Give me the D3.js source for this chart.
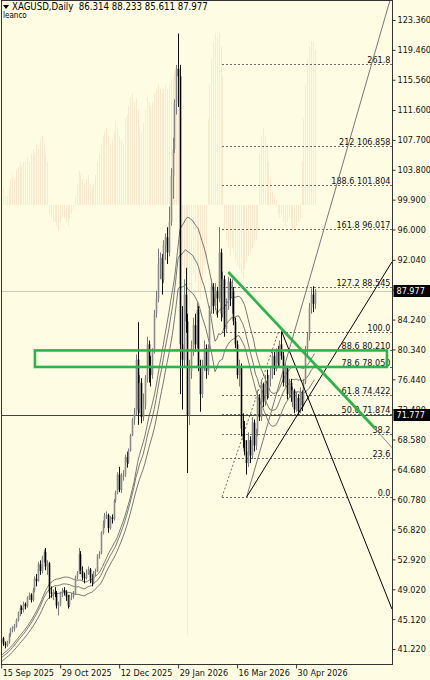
<!DOCTYPE html>
<html><head><meta charset="utf-8">
<script src="https://cdn.jsdelivr.net/npm/d3@7"></script>
<style>html,body{margin:0;padding:0;background:#fefde4;} svg{display:block;}</style>
</head><body><div id="chart"></div>
<script>
// ---------- DATA ----------
const symbolTitle = "XAGUSD,Daily  86.314 88.233 85.611 87.977";
const subTitle = "leanco";
const dateLabels = ["15 Sep 2025","29 Oct 2025","12 Dec 2025","29 Jan 2026","16 Mar 2026","30 Apr 2026"];
const dateLabelBars = [0,32,64,96,128,160];
const priceTicks = [123.36,119.46,115.56,111.6,107.7,103.8,99.9,96.0,92.04,88.14,84.24,80.34,76.44,72.48,68.58,64.68,60.78,56.82,52.92,49.02,45.12,41.22];

const open = [42.2,42.6,41.9,41.7,42.1,43.1,43.8,43.9,44.2,45.0,45.9,46.6,46.3,47.1,46.8,47.9,48.3,47.6,48.9,50.4,
50.1,52.3,51.4,53.1,53.9,52.0,52.4,48.6,48.4,48.7,48.5,46.9,47.0,48.5,48.9,48.6,48.0,46.9,48.0,48.1,
48.4,50.6,51.1,53.6,51.4,50.6,50.5,51.0,51.6,50.4,49.9,51.2,51.4,53.4,53.7,56.4,57.5,58.6,58.7,57.0,
58.4,58.2,60.6,61.6,64.0,62.0,63.9,63.9,66.3,65.6,67.1,69.1,71.2,72.0,79.0,72.5,76.0,71.5,73.0,76.6,
81.0,78.0,77.0,80.0,85.0,87.0,91.5,92.3,89.5,94.0,95.0,93.0,97.0,103.0,106.5,112.5,117.0,116.0,81.0,79.0,
87.5,84.0,71.8,77.5,80.5,83.5,81.0,85.5,78.0,74.5,78.0,80.5,77.5,80.5,85.5,88.5,86.0,88.0,87.0,93.0,
85.0,89.5,83.0,86.0,89.2,87.0,88.0,84.0,81.0,77.0,78.0,70.0,68.5,67.0,65.5,68.5,66.5,70.8,67.8,69.5,
74.0,71.5,75.8,73.5,76.2,74.5,76.5,77.0,79.5,77.8,80.0,78.5,81.0,79.5,76.0,78.0,74.5,76.0,74.0,75.0,
72.5,74.0,72.3,74.8,73.0,76.0,80.2,82.0,85.8,87.5,86.314];
const high = [42.9,42.8,42.2,42.3,43.3,44.0,44.2,44.5,45.2,46.1,47.0,46.9,47.4,47.3,48.1,48.6,48.5,49.2,50.7,51.0,
52.6,52.8,53.4,54.2,54.4,52.8,52.6,49.4,49.0,49.3,48.8,47.4,48.7,49.2,49.3,48.9,48.3,48.3,48.5,48.8,
50.8,51.4,54.4,54.0,52.0,51.2,51.6,52.0,51.8,51.0,51.4,51.7,53.6,54.0,56.6,58.0,59.0,59.2,58.9,58.6,
58.8,60.8,61.9,64.3,65.0,64.2,64.6,66.6,67.0,67.4,69.3,71.4,72.7,79.7,83.9,77.0,76.6,74.6,77.0,82.0,
81.5,79.5,80.5,85.5,88.0,93.5,93.0,92.8,94.6,95.5,96.3,99.0,104.0,108.0,113.0,117.5,121.6,117.5,86.0,89.5,
91.0,85.0,79.0,81.5,84.5,85.0,86.5,86.0,79.0,79.0,81.5,81.0,81.0,86.0,89.5,89.0,89.0,88.5,96.3,93.5,
90.5,90.0,87.0,89.8,89.6,89.5,88.5,84.5,81.5,79.0,78.5,72.0,71.0,68.5,69.5,69.0,71.5,71.2,70.0,75.0,
74.5,76.4,76.0,77.0,77.7,77.0,78.0,80.0,80.0,80.5,80.8,81.5,82.67,80.0,78.5,78.2,76.5,76.5,75.5,75.2,
74.8,74.5,75.4,75.0,76.5,80.8,82.5,86.4,88.3,88.6,88.233];
const low = [41.9,41.6,41.3,41.5,41.9,42.8,43.4,43.5,44.0,44.8,45.5,45.8,46.0,46.4,46.6,47.6,47.3,47.4,48.6,49.4,
50.0,50.9,51.1,52.5,51.5,50.9,47.8,47.9,47.6,48.0,46.5,45.6,46.8,48.0,48.2,47.5,46.5,46.7,47.6,47.8,
48.3,50.3,51.0,51.0,50.2,49.8,50.3,50.9,49.8,49.4,49.7,50.7,51.3,53.0,53.6,56.2,57.0,58.2,56.4,56.8,
57.6,58.0,60.3,61.4,61.7,61.6,63.2,63.7,64.9,65.4,67.0,69.0,70.5,71.8,70.5,72.0,70.7,71.0,72.5,76.0,
76.0,75.5,76.5,79.8,84.5,86.5,89.5,87.5,89.0,92.0,91.5,92.5,96.5,100.0,106.0,111.0,112.0,74.5,72.5,78.0,
82.5,64.2,70.5,76.5,79.5,80.0,80.5,77.5,72.2,74.0,77.5,76.5,77.0,80.0,85.0,85.0,85.5,84.5,86.5,84.0,
84.5,82.0,82.5,85.5,86.0,85.0,83.5,80.5,76.5,75.5,69.0,67.5,66.5,64.0,65.0,65.5,66.0,67.0,67.2,69.0,
71.0,71.0,72.8,73.0,73.8,74.0,75.5,76.5,77.0,77.5,78.0,78.0,79.0,75.5,75.5,73.8,74.0,73.5,72.8,72.0,
72.2,71.8,72.0,72.3,72.8,75.8,79.5,81.5,85.0,85.2,85.611];
const close = [42.6,41.9,41.7,42.1,43.1,43.8,44.0,44.2,45.0,45.9,46.6,46.3,47.1,46.8,47.9,48.3,47.6,48.9,50.4,50.1,
52.3,51.4,53.1,53.9,52.0,52.4,48.6,48.4,48.7,48.5,46.9,47.0,48.5,48.9,48.6,48.0,46.9,48.0,48.1,48.4,
50.6,51.1,53.6,51.4,50.6,50.5,51.0,51.6,50.4,49.9,51.2,51.4,53.4,53.7,56.4,57.5,58.6,58.7,57.0,58.4,
58.2,60.6,61.6,64.0,62.0,63.9,63.9,66.3,65.6,67.1,69.1,71.2,72.0,79.0,72.5,76.0,71.5,73.0,76.6,81.0,
78.0,77.0,80.0,85.0,87.0,91.5,92.3,89.5,94.0,95.0,93.0,97.0,103.0,106.5,112.5,117.0,116.0,81.0,79.0,87.5,
84.0,71.8,77.5,80.5,83.5,81.0,85.5,78.0,74.5,78.0,80.5,77.5,80.5,85.5,88.5,86.0,88.0,87.0,93.0,85.0,
89.5,83.0,86.0,89.2,87.0,88.0,84.0,81.0,77.0,78.0,70.0,68.5,67.0,65.5,68.5,66.5,70.8,67.8,69.5,74.0,
71.5,75.8,73.5,76.2,74.5,76.5,77.0,79.5,77.8,80.0,78.5,81.0,79.5,76.0,78.0,74.5,76.0,74.0,75.0,72.5,
74.0,72.3,74.8,73.0,76.0,80.2,82.0,85.8,87.5,86.3,87.977];

// bars before the visible window (feed the moving averages)
const preHigh  = [37.9,38.2,38.4,39.1,39.2,38.9,38.8,39.2,39.9,40.8,41.0,41.5,41.3,41.5,41.4,41.4,41.5,41.8,42.3];
const preLow   = [36.9,37.3,37.8,38.0,38.4,38.3,38.3,38.4,38.9,39.7,40.3,40.6,40.4,40.6,40.7,40.6,40.7,41.0,41.5];
const preClose = [37.4,38.0,38.1,38.9,38.6,38.6,38.5,39.0,39.7,40.6,40.8,41.2,40.7,41.1,41.1,40.9,41.2,41.6,42.2];
const maPeriod = 20;

// pale oscillator histogram
const oscillator = [3,4,2,2,4,6,7,6,8,9,10,9,10,
10,11,10,12,13,12,14,13,15,16,14,12,10,
-2,-3,-4,-4,-5,-6,-4,-3,-3,-4,-5,-3,-2,-1,2,
5,8,7,6,5,6,7,5,4,5,7,10,12,14,16,
17,18,16,14,15,17,19,18,16,15,14,
20,21,23,25,26,24,25,22,18,17,19,22,25,
24,23,24,26,27,28,27,26,27,28,27,28,29,30,31,32,30,
-10,-14,-16,-18,-100,-24,-20,-16,-18,-14,-20,-22,-18,-14,-12,
20,28,34,38,40,39,40,37,30,
-6,-8,-10,-12,-10,-11,-13,-14,-15,-16,-17,-15,-13,-12,-11,-10,-9,-8,-6,
12,16,18,16,14,10,6,
3,2,1,-2,-3,-2,-4,-5,-4,-3,-5,-6,-6,-5,-4,-3,
10,20,28,34,37,38,38,36];

// fibonacci retracement
const fibNames  = ["0.0","23.6","38.2","50.0","61.8","78.6","88.6","100.0","127.2","161.8","188.6","212","261.8"];
const fibLevels = [0,23.6,38.2,50,61.8,78.6,88.6,100,127.2,161.8,188.6,212,261.8];
const fibShowPrice = [false,false,false,true,true,true,true,false,true,true,true,true,false];
const fibBars = [119.8,150.5];
const fibPrices = [61.0766,82.6714];

const bidPrice = 87.977;
const levelPrice = 71.777;

const greenTrendBars = [123.2,202.8];
const greenTrendPrices = [90.45,70.04];
const greenBoxBars = [18.3,209.3];
const greenBoxPrices = [78.05,80.21];

const steepLineBars = [133.2,211];     const steepLinePrices = [61.08,125.97];
const riseLineBars  = [133.2,212];     const riseLinePrices  = [61.08,91.76];
const fallLineBars  = [152.2,212];     const fallLinePrices  = [82.67,46.45];
const extLineBars   = [202.8,212];     const extLinePrices   = [70.04,67.5];

// ---------- DRAW ----------
const W = 430, H = 680;
const plotL = 1.5, plotR = 392.5, plotT = 0.5, plotB = 664.5;
const BG = "#fefde4";
const font = "'DejaVu Sans Condensed','Liberation Sans',sans-serif";

const x = d3.scaleLinear().domain([0,170]).range([1.2, 1.2 + 1.843*170]);
const y = d3.scaleLinear().domain([41.22,123.36]).range([649,20]);
const oy = d3.scaleLinear().domain([-100,40]).range([635,33]);

const svg = d3.select("#chart").append("svg").attr("width",W).attr("height",H);
svg.append("rect").attr("width",W).attr("height",H).attr("fill",BG);

svg.append("clipPath").attr("id","plot").append("rect")
  .attr("x",plotL).attr("y",plotT).attr("width",plotR-plotL).attr("height",plotB-plotT);
const g = svg.append("g").attr("clip-path","url(#plot)");

// oscillator
g.append("g").selectAll("line").data(oscillator).join("line")
  .attr("x1",(d,i)=>Math.round(x(i))+0.5).attr("x2",(d,i)=>Math.round(x(i))+0.5)
  .attr("y1",oy(0)).attr("y2",d=>oy(d))
  .attr("stroke","#f8e9cf").attr("stroke-width",1);

// fibonacci
const fibPrice = l => fibPrices[0] + (fibPrices[1]-fibPrices[0])*l/100;
const fmt = d3.format(".3f");
const fibG = g.append("g");
fibG.selectAll("line").data(fibLevels).join("line")
  .attr("x1",x(fibBars[0])).attr("x2",plotR)
  .attr("y1",d=>Math.round(y(fibPrice(d)))+0.5).attr("y2",d=>Math.round(y(fibPrice(d)))+0.5)
  .attr("stroke","#6a6a6a").attr("stroke-width",1).attr("stroke-dasharray","2,2");
g.append("line")
  .attr("x1",x(fibBars[0])).attr("y1",y(fibPrices[0]))
  .attr("x2",x(fibBars[1])).attr("y2",y(fibPrices[1]))
  .attr("stroke","#6a6a6a").attr("stroke-width",1).attr("stroke-dasharray","2,2");

// horizontal lines
g.append("line").attr("x1",plotL).attr("x2",plotR)
  .attr("y1",Math.round(y(bidPrice))+0.5).attr("y2",Math.round(y(bidPrice))+0.5)
  .attr("stroke","#c8c8c0").attr("stroke-width",1);
g.append("line").attr("x1",plotL).attr("x2",plotR)
  .attr("y1",Math.round(y(levelPrice))+0.5).attr("y2",Math.round(y(levelPrice))+0.5)
  .attr("stroke","#444").attr("stroke-width",1);

// moving averages (SMA of high, close, low)
function sma(pre, arr){
  const all = pre.concat(arr);
  return arr.map((v,i)=>d3.mean(all.slice(i+pre.length-maPeriod+1, i+pre.length+1)));
}
const maSets = [sma(preHigh,high), sma(preClose,close), sma(preLow,low)];
const lineGen = d3.line().x((d,i)=>x(i)).y(d=>y(d));
g.append("g").selectAll("path").data(maSets).join("path")
  .attr("d",lineGen).attr("fill","none").attr("stroke","#555").attr("stroke-width",0.8);

// candles
const bars = close.map((c,i)=>({i,o:open[i],h:high[i],l:low[i],c}));
const cg = g.append("g");
cg.selectAll("line").data(bars).join("line")
  .attr("x1",d=>Math.round(x(d.i))+0.5).attr("x2",d=>Math.round(x(d.i))+0.5)
  .attr("y1",d=>y(d.h)).attr("y2",d=>y(d.l))
  .attr("stroke",d=>d.c>=d.o?"#7a7a7a":"#111").attr("stroke-width",1);
cg.selectAll("rect").data(bars).join("rect")
  .attr("x",d=>Math.round(x(d.i))-0.3).attr("width",1.6)
  .attr("y",d=>y(Math.max(d.o,d.c))).attr("height",d=>Math.max(1,Math.abs(y(d.o)-y(d.c))))
  .attr("fill",d=>d.c>=d.o?"#8a8a8a":"#000");

// trend lines
function tline(bs, ps, color, w){
  g.append("line").attr("x1",x(bs[0])).attr("y1",y(ps[0])).attr("x2",x(bs[1])).attr("y2",y(ps[1]))
   .attr("stroke",color).attr("stroke-width",w);
}
tline(steepLineBars, steepLinePrices, "#777", 1);
tline(riseLineBars, riseLinePrices, "#000", 1);
tline(fallLineBars, fallLinePrices, "#000", 1);
tline(extLineBars, extLinePrices, "#888", 1);

// green objects
const GREEN = "#2cb34a";
g.append("rect")
  .attr("x",x(greenBoxBars[0])).attr("y",y(greenBoxPrices[1]))
  .attr("width",x(greenBoxBars[1])-x(greenBoxBars[0]))
  .attr("height",y(greenBoxPrices[0])-y(greenBoxPrices[1]))
  .attr("fill","none").attr("stroke",GREEN).attr("stroke-width",2.6);
tline(greenTrendBars, greenTrendPrices, GREEN, 2.8);

// fib labels
fibG.selectAll("text").data(fibLevels).join("text")
  .attr("x",plotR-2).attr("y",d=>Math.round(y(fibPrice(d)))-1.5)
  .attr("text-anchor","end").attr("font-family",font).attr("font-size",9).attr("fill","#111")
  .text((d,i)=> fibShowPrice[i] ? fibNames[i]+" "+fmt(fibPrice(d)) : fibNames[i]);

// frame
svg.append("rect").attr("x",plotL).attr("y",plotT).attr("width",plotR-plotL).attr("height",plotB-plotT)
  .attr("fill","none").attr("stroke","#333").attr("stroke-width",1);

// right axis
const yAxis = d3.axisRight(y).tickValues(priceTicks).tickFormat(fmt).tickSize(3).tickPadding(2);
const ya = svg.append("g").attr("transform",`translate(${plotR},0)`).call(yAxis);
ya.select(".domain").remove();
ya.selectAll("line").attr("stroke","#333");
ya.selectAll("text").attr("font-family",font).attr("font-size",9).attr("fill","#111");

// bottom axis
const xAxis = d3.axisBottom(x).tickValues(dateLabelBars).tickFormat((d,i)=>dateLabels[i]).tickSize(4).tickPadding(1);
const xa = svg.append("g").attr("transform",`translate(0,${plotB})`).call(xAxis);
xa.select(".domain").remove();
xa.selectAll("line").attr("stroke","#333");
xa.selectAll("text").attr("font-family",font).attr("font-size",9).attr("fill","#111")
  .attr("text-anchor","start").attr("dx",1);

// price boxes
function priceBox(p){
  const yy = Math.round(y(p));
  svg.append("rect").attr("x",plotR+1).attr("y",yy-6).attr("width",37).attr("height",12).attr("fill","#000");
  svg.append("text").attr("x",plotR+4).attr("y",yy).attr("dy","0.35em")
    .attr("font-family",font).attr("font-size",9).attr("fill","#fff").text(fmt(p));
}
priceBox(bidPrice);
priceBox(levelPrice);

// title
svg.append("path").attr("d","M3,5 L9,5 L6,9 Z").attr("fill","#000");
svg.append("text").attr("x",12).attr("y",10).attr("font-family",font).attr("font-size",9.6)
  .attr("fill","#000").style("white-space","pre").text(symbolTitle);
svg.append("text").attr("x",3).attr("y",17.5).attr("font-family",font).attr("font-size",8)
  .attr("fill","#000").text(subTitle);
</script>
</body></html>
